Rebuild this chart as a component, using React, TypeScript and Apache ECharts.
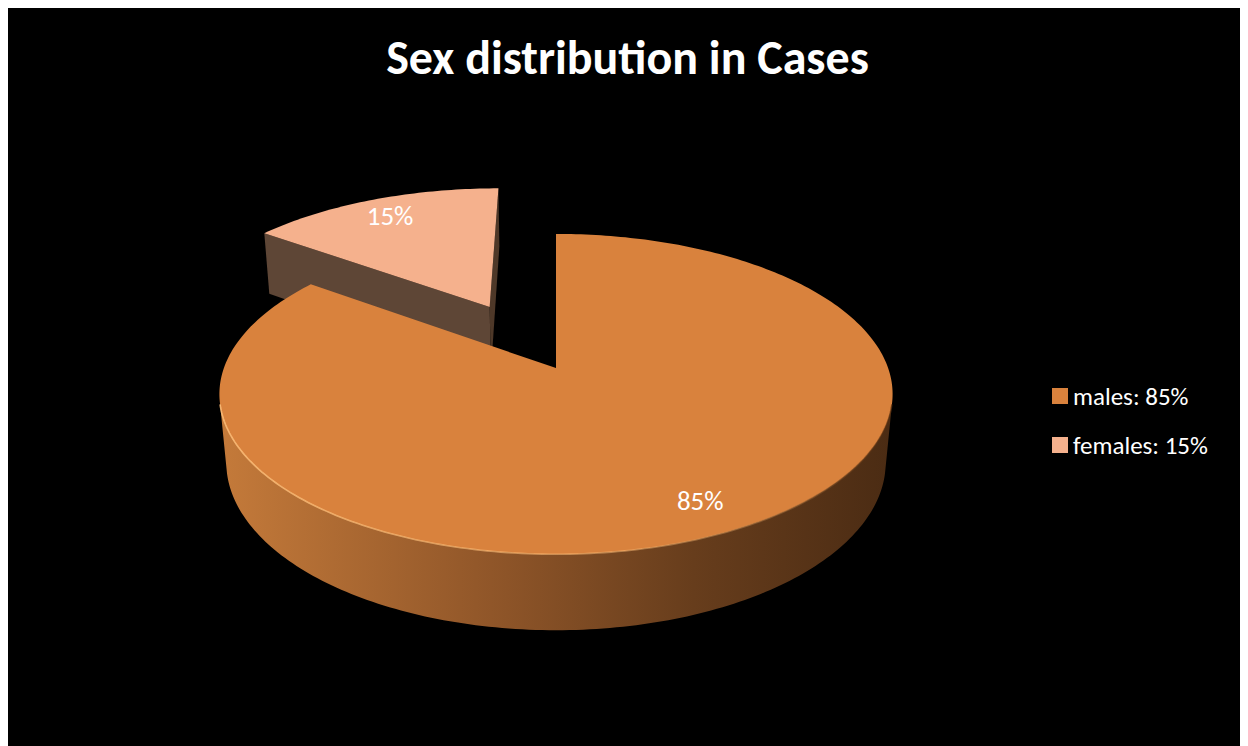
import React, { useEffect, useRef } from 'react';
import * as echarts from 'echarts';

const TITLE = 'Sex distribution in Cases';
const categories = ['males', 'females'];
const values = [85, 15];

const FONT = 'Carlito, Calibri, Lato, sans-serif';
const topColors = ['#D9823D', '#F5B18D'];
const cutColors = ['#6B4020', '#5E4636'];
const cutColors2 = ['#6B4020', '#4E3828'];
const wallStops = [
  [
    { offset: 0, color: '#C47A3A' },
    { offset: 0.4, color: '#905629' },
    { offset: 0.7, color: '#673D1C' },
    { offset: 1, color: '#4A2B13' },
  ],
  [
    { offset: 0, color: '#6E5240' },
    { offset: 1, color: '#4A3628' },
  ],
];
const EXPLODE = [0, 0.47];

// 3D view settings
const CX = 549;
const CY = 360;
const S = 1800;
const D = 5.42;
const PHI = (28 * Math.PI) / 180;
const H = 0.235;
const cf = Math.cos(PHI);
const sf = Math.sin(PHI);

function proj(x: number, y: number, z: number): number[] {
  const depth = D + y * cf - z * sf;
  const up = y * sf + z * cf;
  return [CX + (x * S) / depth, CY - (up * S) / depth];
}

const total = values.reduce((a, b) => a + b, 0);
const starts: number[] = [];
const ends: number[] = [];
{
  let acc = 0;
  values.forEach((v) => {
    starts.push((acc / total) * 360);
    acc += v;
    ends.push((acc / total) * 360);
  });
}
const pct = (i: number) => Math.round((values[i] / total) * 100);
const rad = (d: number) => (d * Math.PI) / 180;

function buildSlice(i: number) {
  const a = starts[i];
  const b = ends[i];
  const mid = rad((a + b) / 2);
  const ox = EXPLODE[i] * Math.sin(mid);
  const oy = EXPLODE[i] * Math.cos(mid);
  const rim = (tDeg: number, z: number) => {
    const t = rad(tDeg);
    return proj(ox + Math.sin(t), oy + Math.cos(t), z);
  };
  const children: any[] = [];

  // outer wall
  const steps: number[] = [];
  for (let t = a; t < b; t += 1) steps.push(t);
  steps.push(b);
  const visible = (tDeg: number) => {
    const t = rad(tDeg);
    return -ox * Math.sin(t) - 1 - (D * cf + oy) * Math.cos(t) > 0;
  };
  let run: number[] = [];
  const runs: number[][] = [];
  steps.forEach((t) => {
    if (visible(t)) run.push(t);
    else if (run.length) {
      runs.push(run);
      run = [];
    }
  });
  if (run.length) runs.push(run);
  runs.forEach((r) => {
    if (r.length < 2) return;
    const pts = r.map((t) => rim(t, 0)).concat(r.slice().reverse().map((t) => rim(t, -H)));
    children.push({
      type: 'polygon',
      shape: { points: pts },
      style: {
        fill: {
          type: 'linear',
          x: CX - 335,
          y: 0,
          x2: CX + 340,
          y2: 0,
          global: true,
          colorStops: wallStops[i],
        },
      },
    });
  });

  // radial cut faces
  const faceVisible = (nx: number, ny: number) => -ox * nx + (-D * cf - oy) * ny > 0;
  const cen = (z: number) => proj(ox, oy, z);
  const ra = rad(a);
  const rb = rad(b);
  if (b - a < 360) {
    if (faceVisible(-Math.cos(ra), Math.sin(ra))) {
      children.push({
        type: 'polygon',
        shape: { points: [cen(0), rim(a, 0), rim(a, -H), cen(-H)] },
        style: { fill: cutColors[i] },
      });
    }
    if (faceVisible(Math.cos(rb), -Math.sin(rb))) {
      children.push({
        type: 'polygon',
        shape: { points: [cen(0), rim(b, 0), rim(b, -H), cen(-H)] },
        style: { fill: cutColors2[i] },
      });
    }
  }

  // top face
  const topPts = [cen(0)].concat(steps.map((t) => rim(t, 0)));
  children.push({
    type: 'polygon',
    shape: { points: topPts },
    style: { fill: topColors[i] },
  });

  // rim highlight on front edge
  runs.forEach((r) => {
    if (r.length < 2) return;
    children.push({
      type: 'polyline',
      shape: { points: r.map((t) => rim(t, 0)) },
      style: {
        fill: null,
        lineWidth: 1.6,
        stroke: {
          type: 'linear',
          x: CX - 335,
          y: 0,
          x2: CX + 340,
          y2: 0,
          global: true,
          colorStops: [
            { offset: 0, color: 'rgba(255,190,120,0.9)' },
            { offset: 0.6, color: 'rgba(255,190,120,0.5)' },
            { offset: 1, color: 'rgba(80,40,10,0.6)' },
          ],
        },
      },
    });
  });

  // label
  const lr = 0.84;
  const lp = proj(ox + lr * Math.sin(mid), oy + lr * Math.cos(mid), 0);
  children.push({
    type: 'text',
    style: {
      text: pct(i) + '%',
      x: lp[0],
      y: lp[1],
      fill: '#ffffff',
      fontSize: 27,
      fontFamily: FONT,
      align: 'center',
      verticalAlign: 'middle',
    },
  });

  return { type: 'group', children };
}

export default function App() {
  const ref = useRef<HTMLDivElement>(null);
  useEffect(() => {
    if (!ref.current) return;
    const chart = echarts.init(ref.current, null, { renderer: 'svg' });
    chart.setOption({
      animation: false,
      backgroundColor: '#000000',
      title: {
        text: TITLE,
        left: 'center',
        top: 20,
        textStyle: { color: '#ffffff', fontSize: 48, fontWeight: 'bold', fontFamily: FONT },
      },
      legend: {
        orient: 'vertical',
        left: 1040,
        top: 370,
        itemWidth: 16,
        itemHeight: 16,
        itemGap: 23,
        icon: 'rect',
        data: categories,
        formatter: (name: string) => `${name}: ${pct(categories.indexOf(name))}%`,
        textStyle: { color: '#ffffff', fontSize: 25, lineHeight: 26, fontFamily: FONT },
      },
      series: categories.map((name, i) => ({
        type: 'custom',
        name,
        coordinateSystem: 'none',
        silent: true,
        z: i === 0 ? 3 : 2,
        itemStyle: { color: topColors[i] },
        data: [[values[i]]],
        renderItem: () => buildSlice(i),
      })),
    });
    return () => chart.dispose();
  }, []);
  return (
    <div
      ref={ref}
      style={{ width: 1241, height: 738, marginLeft: -1, background: '#000' }}
    />
  );
}
